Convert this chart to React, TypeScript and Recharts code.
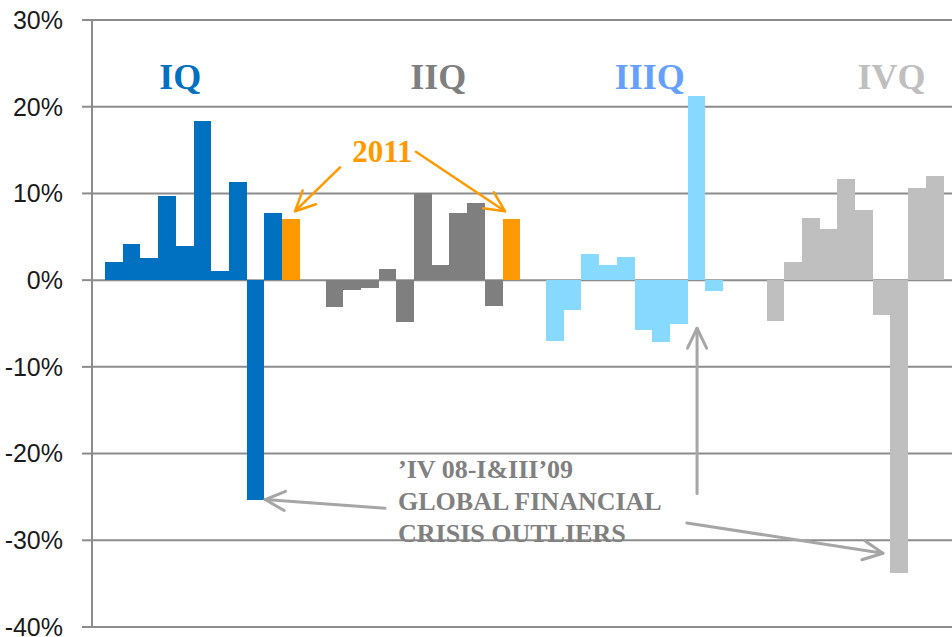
// Quarterly returns by year, grouped by quarter (IQ..IVQ), 2011 highlighted.
// Annotation text and arrows are placed in data space through a hidden
// numeric x axis (0..4 = the four quarter bands).

import {
  Bar,
  BarChart,
  CartesianGrid,
  Cell,
  ReferenceDot,
  ReferenceLine,
  XAxis,
  YAxis,
} from "recharts";

const QUARTERS = ["IQ", "IIQ", "IIIQ", "IVQ"];
const YEARS = [
  "2001", "2002", "2003", "2004", "2005", "2006",
  "2007", "2008", "2009", "2010", "2011",
];

// % change, one value per year (2001..2011); null = no bar
const IQ_VALUES = [2.1, 4.15, 2.6, 9.7, 3.9, 18.3, 1.0, 11.3, -25.4, 7.8, 7.1];
const IIQ_VALUES = [-3.1, -1.1, -0.85, 1.3, -4.8, 10.0, 1.7, 7.7, 8.9, -3.0, 7.0];
const IIIQ_VALUES = [-7.0, -3.4, 3.0, 1.7, 2.65, -5.7, -7.1, -5.0, 21.2, -1.25, null];
const IVQ_VALUES = [-4.7, 2.1, 7.15, 5.9, 11.65, 8.1, -4.0, -33.8, 10.65, 12.0, null];
const SERIES = [IQ_VALUES, IIQ_VALUES, IIIQ_VALUES, IVQ_VALUES];

const Y_TICKS = [-40, -30, -20, -10, 0, 10, 20, 30];

// quarter headings: x in quarter-band units, y in %
const HEAD_X = [0.4, 1.57, 2.53, 3.626];
const HEAD_Y = 22;

const BAR_COLORS = ["#0070C0", "#7F7F7F", "#87D9FF", "#BFBFBF"];
const HEAD_COLORS = ["#0070C0", "#7F7F7F", "#66A0FF", "#BFBFBF"];
const ORANGE = "#FF9900";
const GRID = "#8C8C8C";
const NOTE = "#808080";
const ARROW_GRAY = "#A6A6A6";

// arrows: [tailX, tailY, tipX, tipY]
const ORANGE_ARROWS = [
  [1.125, 13.0, 0.921, 7.95],
  [1.469, 14.8, 1.873, 7.95],
];
const GRAY_ARROWS = [
  [1.329, -26.3, 0.785, -25.3],
  [2.744, -24.6, 2.744, -5.55],
  [2.698, -28.0, 3.587, -31.5],
];

const NOTE_LINES = ["\u2019IV 08-I&III\u201909", "GLOBAL FINANCIAL", "CRISIS OUTLIERS"];

const data = QUARTERS.map((q, k) => {
  const row: Record<string, string | number | null> = { q, slot: k };
  YEARS.forEach((y, i) => {
    row["y" + y] = SERIES[k][i];
  });
  return row;
});

const SERIF = "'Liberation Serif', 'Times New Roman', serif";

function Arrow(props: any) {
  const { x1, y1, x2, y2, stroke, strokeWidth } = props;
  const a = Math.atan2(y2 - y1, x2 - x1);
  const len = 22;
  const spread = 0.45;
  const ax = x2 - len * Math.cos(a - spread);
  const ay = y2 - len * Math.sin(a - spread);
  const bx = x2 - len * Math.cos(a + spread);
  const by = y2 - len * Math.sin(a + spread);
  return (
    <g stroke={stroke} strokeWidth={strokeWidth} fill="none" strokeLinecap="round">
      <line x1={x1} y1={y1} x2={x2} y2={y2} />
      <polyline points={`${ax},${ay} ${x2},${y2} ${bx},${by}`} strokeLinejoin="round" />
    </g>
  );
}

function textShape(lines: string[], color: string, size: number, anchor: string, lineGap = 0) {
  return (p: any) => (
    <text
      x={p.cx}
      y={p.cy}
      fill={color}
      fontFamily={SERIF}
      fontWeight="bold"
      fontSize={size}
      textAnchor={anchor}
    >
      {lines.map((l, i) => (
        <tspan key={i} x={p.cx} dy={i === 0 ? 0 : lineGap}>
          {l}
        </tspan>
      ))}
    </text>
  );
}

export default function App() {
  return (
    <div
      style={{
        position: "absolute",
        left: 0,
        top: 0,
        width: 952,
        height: 637,
        overflow: "hidden",
        background: "#fff",
      }}
    >
      <BarChart
        width={980}
        height={637}
        data={data}
        barSize={17.7}
        barGap={0}
        margin={{ top: 20, right: 6, bottom: 10, left: 0 }}
      >
        <CartesianGrid vertical={false} stroke={GRID} strokeWidth={2} />
        <XAxis dataKey="q" hide />
        <XAxis
          xAxisId="pos"
          dataKey="slot"
          type="number"
          domain={[0, 4]}
          allowDataOverflow
          hide
        />
        <YAxis
          domain={[-40, 30]}
          ticks={Y_TICKS}
          interval={0}
          width={92}
          tickFormatter={(v: number) => `${v}%`}
          tick={{
            fontSize: 25,
            fontFamily: "'Liberation Sans', sans-serif",
            fill: "#1A1A1A",
          }}
          tickSize={10}
          tickMargin={19}
          axisLine={{ stroke: GRID, strokeWidth: 2 }}
          tickLine={{ stroke: GRID, strokeWidth: 2 }}
          allowDataOverflow
        />
        {YEARS.map((y, i) => (
          <Bar
            key={y}
            dataKey={"y" + y}
            shapeRendering="crispEdges"
            isAnimationActive={false}
          >
            {QUARTERS.map((q, k) => (
              <Cell
                key={q}
                shapeRendering="crispEdges"
                fill={i === YEARS.length - 1 ? ORANGE : BAR_COLORS[k]}
              />
            ))}
          </Bar>
        ))}

        {QUARTERS.map((q, k) => (
          <ReferenceDot
            key={q}
            xAxisId="pos"
            x={HEAD_X[k]}
            y={HEAD_Y}
            ifOverflow="visible"
            shape={textShape([q], HEAD_COLORS[k], 36, "middle")}
          />
        ))}
        <ReferenceDot
          xAxisId="pos"
          x={1.317}
          y={13.65}
          ifOverflow="visible"
          shape={textShape(["2011"], ORANGE, 31, "middle")}
        />
        <ReferenceDot
          xAxisId="pos"
          x={1.388}
          y={-22.84}
          ifOverflow="visible"
          shape={textShape(NOTE_LINES, NOTE, 26, "start", 32)}
        />

        {ORANGE_ARROWS.map((a, i) => (
          <ReferenceLine
            key={"o" + i}
            xAxisId="pos"
            ifOverflow="visible"
            segment={[{ x: a[0], y: a[1] }, { x: a[2], y: a[3] }]}
            stroke={ORANGE}
            strokeWidth={2.5}
            shape={Arrow}
          />
        ))}
        {GRAY_ARROWS.map((a, i) => (
          <ReferenceLine
            key={"g" + i}
            xAxisId="pos"
            ifOverflow="visible"
            segment={[{ x: a[0], y: a[1] }, { x: a[2], y: a[3] }]}
            stroke={ARROW_GRAY}
            strokeWidth={3}
            shape={Arrow}
          />
        ))}
      </BarChart>
    </div>
  );
}
